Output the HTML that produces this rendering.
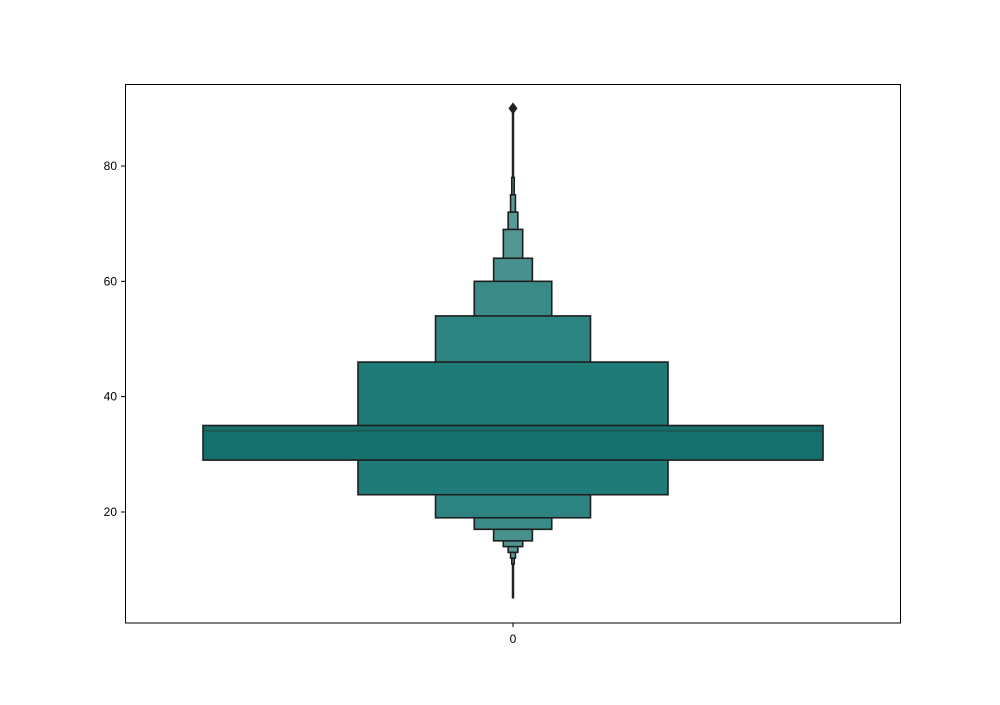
<!DOCTYPE html>
<html><head><meta charset="utf-8"><style>
body{margin:0;background:#fff;font-family:"Liberation Sans",sans-serif}
</style></head><body>
<svg id="chart" width="1000" height="700" xmlns="http://www.w3.org/2000/svg">
<rect x="0" y="0" width="1000" height="700" fill="#fff"/>
<g id="boxes"></g>
<g id="ticks"></g>
<rect x="125.5" y="84.5" width="775" height="538.5" fill="none" stroke="#000" stroke-width="1"/>
<line x1="513" x2="513" y1="623" y2="627" stroke="#000"/>
<text x="513" y="643" font-size="12" text-anchor="middle">0</text>
</svg>
<script>
const lowers = [29, 23, 19, 17, 15, 14, 13, 12, 11];
const uppers = [35, 46, 54, 60, 64, 69, 72, 75, 78];
const colors = ["#156f6c","#1f7b78","#2c8381","#3a8a87","#48918e","#519693","#579997","#5a9b99","#5c9c9a"];
const median = 34.1;
const whiskerMin = 5;
const whiskerMax = 90;
const outliers = [90];
const yTicks = [20, 40, 60, 80];

const NS = "http://www.w3.org/2000/svg";
const cx = 513, maxHalf = 310;
function y(v){ return 512 - (v - 20) * 5.7667; }
const boxes = document.getElementById('boxes');
function mk(tag, attrs, parent){
  const e = document.createElementNS(NS, tag);
  for (const k in attrs) e.setAttribute(k, attrs[k]);
  parent.appendChild(e); return e;
}
let w1 = mk('line', {x1:cx, x2:cx, y1:y(uppers[uppers.length-1]), y2:y(whiskerMax), stroke:'#222', 'stroke-width':2.5}, boxes);


let w2 = mk('line', {x1:cx, x2:cx, y1:y(lowers[lowers.length-1]), y2:y(whiskerMin), stroke:'#222', 'stroke-width':2.5}, boxes);


for (let i = lowers.length - 1; i >= 0; i--) {
  const half = maxHalf / Math.pow(2, i);
  const r = mk('rect', {x:cx-half, y:y(uppers[i]), width:2*half, height:y(lowers[i])-y(uppers[i]), fill:colors[i], stroke:'#1e1e1e', 'stroke-width':1.6}, boxes);
  
  
}
const m = mk('line', {x1:cx-maxHalf+1, x2:cx+maxHalf-1, y1:y(median), y2:y(median), stroke:'#1d5855', 'stroke-width':2}, boxes);


outliers.forEach(function(o){
  const yy = y(o);
  const d = mk('polygon', {points:(cx)+','+(yy-6)+' '+(cx+4.5)+','+yy+' '+cx+','+(yy+6)+' '+(cx-4.5)+','+yy, fill:'#222'}, boxes);
  
  
});
const ticks = document.getElementById('ticks');
yTicks.forEach(function(t){
  const l = mk('line', {x1:121, x2:125, y1:y(t), y2:y(t), stroke:'#000'}, ticks);
  
  
  const tx = mk('text', {x:117, y:y(t)+4, 'font-size':12, 'text-anchor':'end'}, ticks);
  tx.textContent = t;
  
  
});
</script>
</body></html>
